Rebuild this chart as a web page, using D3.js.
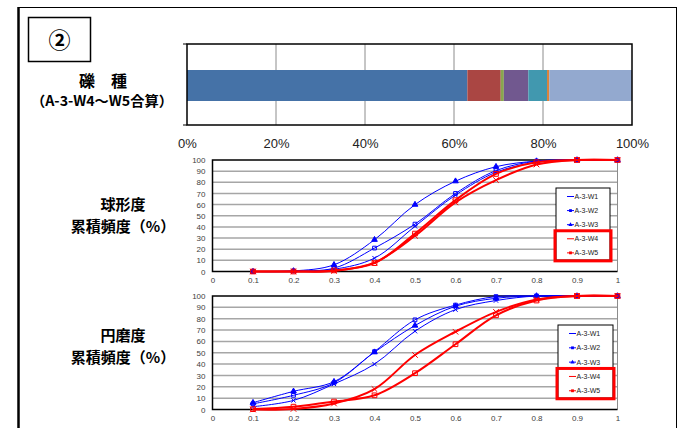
<!DOCTYPE html>
<html>
<head>
<meta charset="utf-8">
<script src="https://cdn.jsdelivr.net/npm/d3@7"></script>
<style>
  body { margin: 0; background: #fff; }
  svg { display: block; font-family: "Noto Sans CJK JP", "Noto Sans", sans-serif; }
</style>
</head>
<body>
<svg width="679" height="428"></svg>
<script>
// gravel type shares (%), left to right
var gravelShares = [63.0, 7.5, 0.7, 5.5, 4.2, 0.5, 18.6];
var percentTicks = [0, 20, 40, 60, 80, 100];

// class midpoints on the x axis
var classSteps = [0.1, 0.2, 0.3, 0.4, 0.5, 0.6, 0.7, 0.8, 0.9, 1.0];
var seriesNames = ["A-3-W1", "A-3-W2", "A-3-W3", "A-3-W4", "A-3-W5"];

// sphericity cumulative frequency (%)
var sphW1 = [0, 0, 2, 12, 40.5, 68.5, 89, 98, 100, 100];
var sphW2 = [0, 0.5, 3, 21, 42.5, 70, 90.5, 99, 100, 100];
var sphW3 = [0, 0.5, 6, 28.5, 60, 81, 94, 99, 100, 100];
var sphW4 = [0, 0, 0.5, 8, 32, 62, 82, 96, 100, 100];
var sphW5 = [0, 0, 1, 7.5, 34, 64, 87.5, 98, 100, 100];

// roundness cumulative frequency (%)
var rndW1 = [2.5, 8, 22.5, 40, 69, 88, 96, 100, 100, 100];
var rndW2 = [5, 12.5, 23.5, 51, 79, 92, 99.5, 100, 100, 100];
var rndW3 = [6, 16, 24.5, 50.5, 74, 91, 98, 100, 100, 100];
var rndW4 = [0, 0.5, 5.3, 18, 48, 68.5, 86, 97, 100, 100];
var rndW5 = [0.3, 2.5, 7, 12.5, 32, 57.5, 83, 96, 100, 100];

var yTicks = [0, 10, 20, 30, 40, 50, 60, 70, 80, 90, 100];
var xTicks = [0, 0.1, 0.2, 0.3, 0.4, 0.5, 0.6, 0.7, 0.8, 0.9, 1];

var gravelColors = ["#4572A7", "#AA4643", "#89A54E", "#71588F", "#4198AF", "#DB843D", "#93A9CF"];
var seriesColors = ["#0000FF", "#0000FF", "#0000FF", "#FF0000", "#FF0000"];
var seriesWidths = [1, 1, 1, 2, 2];
var timesSym = d3.symbolTimes || d3.symbolCross;
var seriesSymbols = [timesSym, d3.symbolSquare, d3.symbolTriangle, timesSym, d3.symbolSquare];

var svg = d3.select("svg");

// outer frame
svg.append("rect").attr("x", 18.5).attr("y", 7.5).attr("width", 658).attr("height", 430)
    .attr("fill", "none").attr("stroke", "#000").attr("stroke-width", 1);
svg.append("line").attr("x1", 18.5).attr("x2", 18.5).attr("y1", 7).attr("y2", 428)
    .attr("stroke", "#000").attr("stroke-width", 2.5);

// number box
svg.append("rect").attr("x", 28.5).attr("y", 17.5).attr("width", 62).attr("height", 44)
    .attr("fill", "#fff").attr("stroke", "#000").attr("stroke-width", 1.5);
svg.append("text").attr("x", 59.5).attr("y", 48).attr("text-anchor", "middle")
    .style("font-size", "22px").style("font-weight", "bold").text("②");

// left-side titles
function title(text, x, y, size) {
  svg.append("text").attr("x", x).attr("y", y).attr("text-anchor", "middle")
      .style("font-size", size + "px").style("font-weight", "bold").text(text);
}
title("礫\u3000種", 103, 87, 16);
svg.append("text").attr("x", 102).attr("y", 106).attr("text-anchor", "middle")
    .attr("textLength", 142).attr("lengthAdjust", "spacingAndGlyphs")
    .style("font-size", "14px").style("font-weight", "bold").text("（A-3-W4～W5合算）");
title("球形度", 123, 210, 15);
title("累積頻度（%）", 123, 232, 15);
title("円磨度", 123, 341, 15);
title("累積頻度（%）", 123, 363, 15);

// ---------- stacked bar of gravel types ----------
var bx = d3.scaleLinear().domain([0, 100]).range([187, 632]);
var barTop = 44, barBottom = 125;

var bg = svg.append("g");
bg.selectAll("line.grid").data(percentTicks.slice(1, -1)).enter().append("line")
    .attr("x1", function(d) { return bx(d); }).attr("x2", function(d) { return bx(d); })
    .attr("y1", barTop).attr("y2", barBottom).attr("stroke", "#8c8c8c").attr("stroke-width", 1);

var ends = d3.cumsum(gravelShares);
bg.selectAll("rect.seg").data(gravelShares).enter().append("rect")
    .attr("x", function(d, i) { return bx(ends[i] - d); })
    .attr("width", function(d) { return bx(d) - bx(0); })
    .attr("y", 70).attr("height", 31)
    .attr("fill", function(d, i) { return gravelColors[i]; });

bg.append("rect").attr("x", bx(0)).attr("y", barTop).attr("width", bx(100) - bx(0))
    .attr("height", barBottom - barTop).attr("fill", "none").attr("stroke", "#000").attr("stroke-width", 1.5);
bg.selectAll("line.tk").data([barTop, barBottom]).enter().append("line")
    .attr("x1", bx(0) - 4).attr("x2", bx(0)).attr("y1", function(d) { return d; }).attr("y2", function(d) { return d; })
    .attr("stroke", "#000");

var bAxis = bg.append("g").attr("transform", "translate(0," + barBottom + ")")
    .call(d3.axisBottom(bx).tickValues(percentTicks).tickSize(0).tickPadding(14)
      .tickFormat(function(d) { return d + "%"; }));
bAxis.select(".domain").remove();
bAxis.selectAll("text").style("font-size", "13px").style("fill", "#222")
    .style("font-family", "Liberation Sans, Arial, sans-serif");

// ---------- line charts ----------
var lx = d3.scaleLinear().domain([0, 1]).range([212.5, 617.5]);

function lineChart(top, bottom, series, legendBox) {
  var y = d3.scaleLinear().domain([0, 100]).range([bottom, top]);
  var g = svg.append("g");

  g.selectAll("line.grid").data(yTicks.slice(1, -1)).enter().append("line")
      .attr("x1", lx(0)).attr("x2", lx(1))
      .attr("y1", function(d) { return y(d); }).attr("y2", function(d) { return y(d); })
      .attr("stroke", "#a6a6a6").attr("stroke-width", 1.5);
  g.append("line").attr("x1", lx(1)).attr("x2", lx(1)).attr("y1", top).attr("y2", bottom)
      .attr("stroke", "#8c8c8c").attr("stroke-width", 1);
  g.append("path").attr("d", "M" + lx(1) + "," + top + "H" + lx(0) + "V" + bottom + "H" + lx(1))
      .attr("fill", "none").attr("stroke", "#000").attr("stroke-width", 1.5);

  var ya = g.append("g").attr("transform", "translate(" + lx(0) + ",0)")
      .call(d3.axisLeft(y).tickValues(yTicks).tickSize(0).tickPadding(7));
  var xa = g.append("g").attr("transform", "translate(0," + bottom + ")")
      .call(d3.axisBottom(lx).tickValues(xTicks).tickSize(0).tickPadding(6)
        .tickFormat(d3.format(".1~f")));
  [ya, xa].forEach(function(a) {
    a.select(".domain").remove();
    a.selectAll("text").style("font-size", "8px").style("fill", "#404040")
        .style("font-family", "Liberation Sans, Arial, sans-serif");
  });

  var line = d3.line()
      .x(function(d, i) { return lx(classSteps[i]); })
      .y(function(d) { return y(d); })
      .curve(d3.curveCatmullRom.alpha(0.5));

  series.forEach(function(vals, k) {
    var s = g.append("g");
    s.append("path").attr("d", line(vals)).attr("fill", "none")
        .attr("stroke", seriesColors[k]).attr("stroke-width", seriesWidths[k]);
    s.selectAll("path.m").data(vals).enter().append("path")
        .attr("transform", function(d, i) { return "translate(" + lx(classSteps[i]) + "," + y(d) + ")"; })
        .attr("d", d3.symbol().type(seriesSymbols[k]).size(k >= 3 ? 22 : 14))
        .attr("fill", seriesSymbols[k] === d3.symbolSquare ? "none" : seriesColors[k])
        .attr("stroke", seriesColors[k]).attr("stroke-width", 1);
  });

  // legend
  var lg = g.append("g");
  lg.append("rect").attr("x", legendBox[0]).attr("y", legendBox[1])
      .attr("width", legendBox[2]).attr("height", legendBox[3])
      .attr("fill", "#fff").attr("stroke", "#000").attr("stroke-width", 1);
  var step = (legendBox[3] - 10) / 4.4;
  seriesNames.forEach(function(name, k) {
    var cy = legendBox[1] + 8.5 + k * step;
    var lx0 = legendBox[0] + 11;
    lg.append("line").attr("x1", lx0).attr("x2", lx0 + 7).attr("y1", cy).attr("y2", cy)
        .attr("stroke", seriesColors[k]).attr("stroke-width", 1);
    lg.append("path").attr("transform", "translate(" + (lx0 + 3.5) + "," + cy + ")")
        .attr("d", d3.symbol().type(seriesSymbols[k]).size(8))
        .attr("fill", seriesColors[k]).attr("stroke", "none");
    lg.append("text").attr("x", lx0 + 7.5).attr("y", cy + 2.5)
        .style("font-size", "7px").style("fill", "#222")
        .style("font-family", "Liberation Sans, Arial, sans-serif").text(name);
  });
  // red highlight around W4 / W5
  lg.append("rect").attr("x", legendBox[0] - 1).attr("y", legendBox[1] + 8.5 + 3 * step - 8)
      .attr("width", legendBox[2] + 2).attr("height", step + 16)
      .attr("fill", "none").attr("stroke", "#ff0000").attr("stroke-width", 3);
}

lineChart(160, 271.5, [sphW1, sphW2, sphW3, sphW4, sphW5], [556, 188, 54, 72]);
lineChart(296, 409.5, [rndW1, rndW2, rndW3, rndW4, rndW5], [558, 325, 55, 73]);
</script>
</body>
</html>
